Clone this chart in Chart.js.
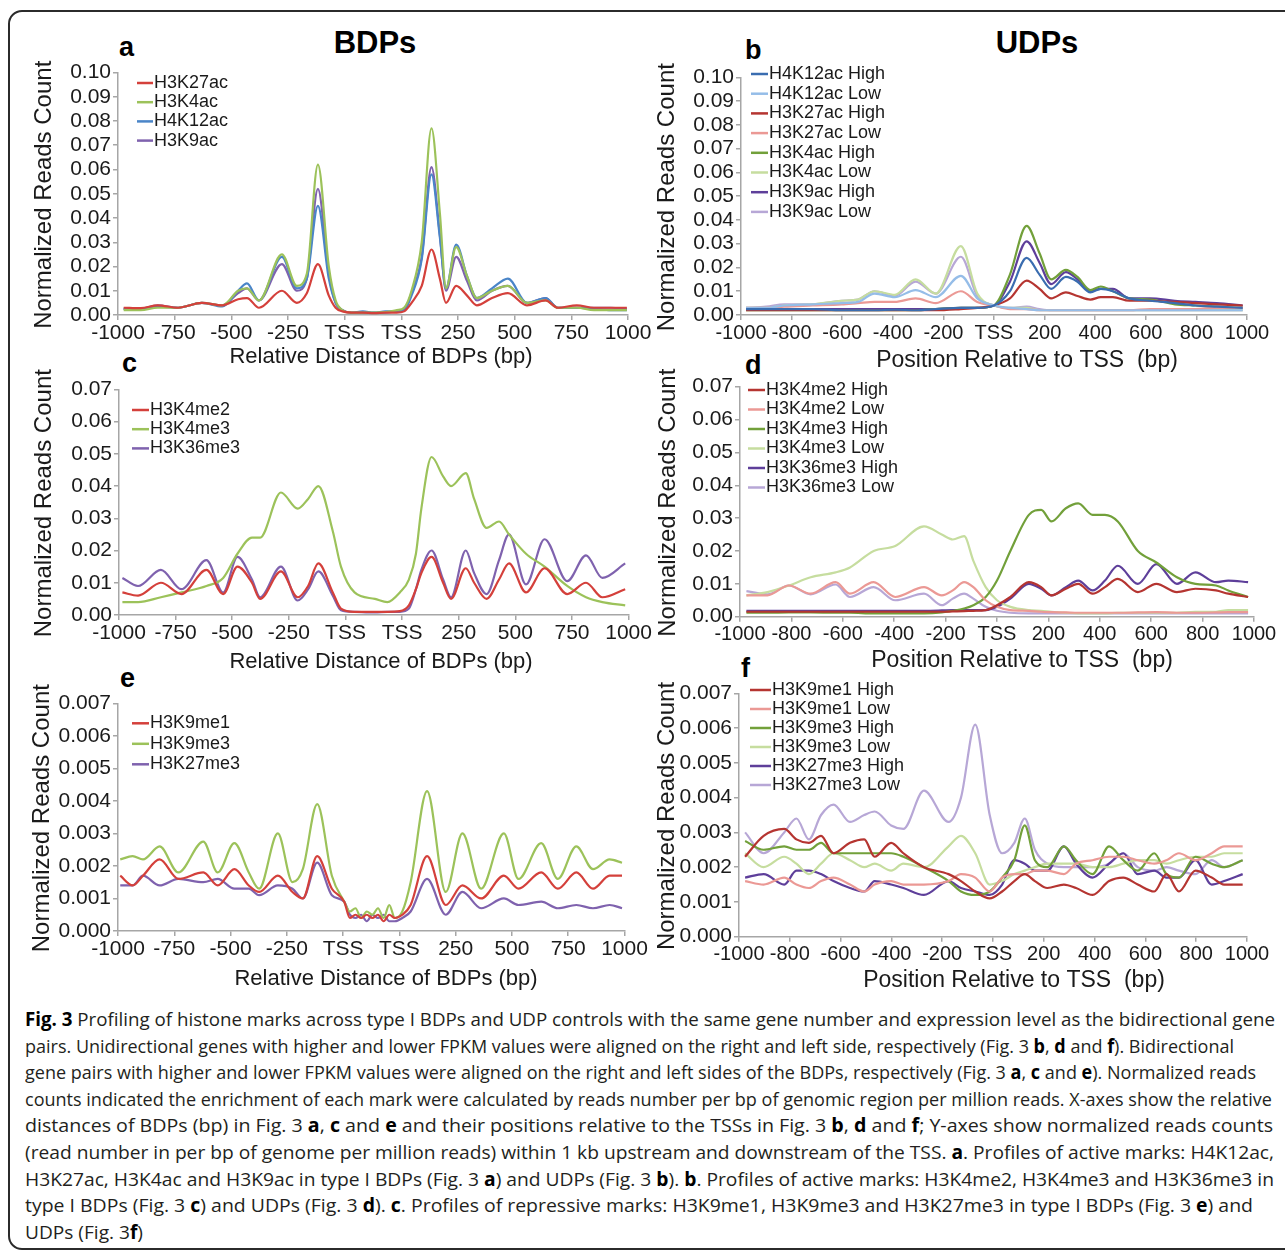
<!DOCTYPE html>
<html>
<head>
<meta charset="utf-8">
<title>Fig. 3 histone mark profiles</title>
<script src="https://cdn.jsdelivr.net/npm/chart.js@4.4.1/dist/chart.umd.min.js"></script>
<style>
  body { margin: 0; background: #fff; width: 1285px; height: 1251px; position: relative; overflow: hidden;
         font-family: "Liberation Sans", Arial, sans-serif; color: #1a1a1a; }
  .frame { position: absolute; left: 8px; top: 10px; width: 1300px; height: 1240px; box-sizing: border-box;
           border: 2px solid #2b2b2b; border-radius: 14px; }
  .head { position: absolute; font-weight: bold; font-size: 31px; line-height: 31px; transform: translateX(-50%); color: #000; }
  .letter { position: absolute; font-weight: bold; font-size: 27px; line-height: 27px; color: #000; }
  .caption { position: absolute; left: 25px; top: 1006px; font-family: "Liberation Sans Narrow", "Open Sans", sans-serif;
             font-size: 19px; color: #231f20; }
  .caption div { height: 26.6px; line-height: 26.6px; white-space: nowrap; }
  .caption span.ln { display: inline-block; transform-origin: 0 50%; }
  .caption b { color: #000; }
</style>
</head>
<body>
<div class="frame"></div>
<div class="head" style="left:375px; top:27px;">BDPs</div>
<div class="head" style="left:1037px; top:27px;">UDPs</div>
<div class="letter" style="left:119px; top:34px;">a</div>
<div class="letter" style="left:745px; top:37px;">b</div>
<div class="letter" style="left:122px; top:350px;">c</div>
<div class="letter" style="left:745px; top:352px;">d</div>
<div class="letter" style="left:120px; top:665px;">e</div>
<div class="letter" style="left:741px; top:655px;">f</div>

<div class="caption" id="caption">
  <div><span class="ln"><b>Fig. 3</b> Profiling of histone marks across type I BDPs and UDP controls with the same gene number and expression level as the bidirectional gene</span></div>
  <div><span class="ln">pairs. Unidirectional genes with higher and lower FPKM values were aligned on the right and left side, respectively (Fig. 3 <b>b</b>, <b>d</b> and <b>f</b>). Bidirectional</span></div>
  <div><span class="ln">gene pairs with higher and lower FPKM values were aligned on the right and left sides of the BDPs, respectively (Fig. 3 <b>a</b>, <b>c</b> and <b>e</b>). Normalized reads</span></div>
  <div><span class="ln">counts indicated the enrichment of each mark were calculated by reads number per bp of genomic region per million reads. X-axes show the relative</span></div>
  <div><span class="ln">distances of BDPs (bp) in Fig. 3 <b>a</b>, <b>c</b> and <b>e</b> and their positions relative to the TSSs in Fig. 3 <b>b</b>, <b>d</b> and <b>f</b>; Y-axes show normalized reads counts</span></div>
  <div><span class="ln">(read number in per bp of genome per million reads) within 1 kb upstream and downstream of the TSS. <b>a</b>. Profiles of active marks: H4K12ac,</span></div>
  <div><span class="ln">H3K27ac, H3K4ac and H3K9ac in type I BDPs (Fig. 3 <b>a</b>) and UDPs (Fig. 3 <b>b</b>). <b>b</b>. Profiles of active marks: H3K4me2, H3K4me3 and H3K36me3 in</span></div>
  <div><span class="ln">type I BDPs (Fig. 3 <b>c</b>) and UDPs (Fig. 3 <b>d</b>). <b>c</b>. Profiles of repressive marks: H3K9me1, H3K9me3 and H3K27me3 in type I BDPs (Fig. 3 <b>e</b>) and</span></div>
  <div><span class="ln">UDPs (Fig. 3<b>f</b>)</span></div>
</div>

<script>
// ---------- axes ----------
// BDP axis: left TSS at 0, right TSS at 250 (one tick interval between the two TSSs)
const bdpTickPos = [-1000, -750, -500, -250, 0, 250, 500, 750, 1000, 1250];
const bdpTickLabels = ['-1000', '-750', '-500', '-250', 'TSS', 'TSS', '250', '500', '750', '1000'];
const udpTickPos = [-1000, -800, -600, -400, -200, 0, 200, 400, 600, 800, 1000];
const udpTickLabels = ['-1000', '-800', '-600', '-400', '-200', 'TSS', '200', '400', '600', '800', '1000'];

const yTicksAc = [0, 0.01, 0.02, 0.03, 0.04, 0.05, 0.06, 0.07, 0.08, 0.09, 0.10];
const yLabelsAc = ['0.00', '0.01', '0.02', '0.03', '0.04', '0.05', '0.06', '0.07', '0.08', '0.09', '0.10'];
const yTicksMe = [0, 0.01, 0.02, 0.03, 0.04, 0.05, 0.06, 0.07];
const yLabelsMe = ['0.00', '0.01', '0.02', '0.03', '0.04', '0.05', '0.06', '0.07'];
const yTicksRep = [0, 0.001, 0.002, 0.003, 0.004, 0.005, 0.006, 0.007];
const yLabelsRep = ['0.000', '0.001', '0.002', '0.003', '0.004', '0.005', '0.006', '0.007'];

// ---------- panel a (BDPs, active acetylation marks) ----------
const posA = [-975, -900, -825, -735, -630, -540, -470, -431, -378, -277, -211, -167, -118, -70, -40, -10, 30, 80, 130, 180, 230, 262, 295, 340, 383, 420, 447, 492, 540, 583, 650, 720, 804, 886, 941, 1024, 1100, 1175, 1245];
const aH3K27ac = [0.003, 0.0028, 0.004, 0.003, 0.005, 0.004, 0.0065, 0.007, 0.003, 0.010, 0.005, 0.009, 0.021, 0.008, 0.003, 0.0015, 0.001, 0.001, 0.0008, 0.001, 0.001, 0.0015, 0.005, 0.012, 0.027, 0.015, 0.005, 0.012, 0.008, 0.004, 0.007, 0.009, 0.004, 0.006, 0.003, 0.004, 0.003, 0.003, 0.003];
const aH3K4ac = [0.002, 0.002, 0.003, 0.003, 0.005, 0.004, 0.010, 0.011, 0.006, 0.025, 0.012, 0.017, 0.062, 0.020, 0.006, 0.002, 0.001, 0.001, 0.001, 0.0012, 0.002, 0.003, 0.010, 0.030, 0.077, 0.042, 0.011, 0.028, 0.016, 0.007, 0.010, 0.012, 0.005, 0.006, 0.003, 0.003, 0.002, 0.002, 0.002];
const aH4K12ac = [0.0025, 0.0025, 0.0035, 0.003, 0.005, 0.0035, 0.010, 0.013, 0.006, 0.024, 0.011, 0.015, 0.045, 0.015, 0.005, 0.002, 0.001, 0.0015, 0.001, 0.0015, 0.0015, 0.002, 0.008, 0.023, 0.058, 0.032, 0.011, 0.029, 0.016, 0.007, 0.011, 0.015, 0.005, 0.007, 0.003, 0.003, 0.0025, 0.002, 0.002];
const aH3K9ac = [0.0025, 0.0025, 0.004, 0.003, 0.005, 0.004, 0.009, 0.011, 0.006, 0.021, 0.010, 0.015, 0.052, 0.017, 0.005, 0.002, 0.001, 0.001, 0.001, 0.001, 0.0015, 0.002, 0.009, 0.024, 0.061, 0.033, 0.010, 0.024, 0.014, 0.006, 0.010, 0.012, 0.005, 0.007, 0.003, 0.003, 0.003, 0.003, 0.0025];

// ---------- panel b (UDPs, acetylation, high / low FPKM) ----------
const posB = [-980, -900, -830, -716, -603, -538, -472, -392, -310, -230, -131, -66, 0, 63, 129, 180, 226, 284, 330, 381, 422, 470, 535, 617, 715, 796, 880, 983];
const bH4K12acHigh = [0.0025, 0.0025, 0.0025, 0.0025, 0.002, 0.002, 0.002, 0.0022, 0.002, 0.0025, 0.003, 0.003, 0.004, 0.010, 0.024, 0.017, 0.011, 0.016, 0.014, 0.0095, 0.011, 0.010, 0.007, 0.006, 0.005, 0.004, 0.0035, 0.003];
const bH4K12acLow = [0.003, 0.003, 0.004, 0.0045, 0.005, 0.0055, 0.009, 0.0075, 0.0105, 0.0075, 0.0165, 0.007, 0.004, 0.003, 0.0025, 0.002, 0.002, 0.002, 0.002, 0.002, 0.002, 0.002, 0.002, 0.002, 0.002, 0.002, 0.002, 0.002];
const bH3K27acHigh = [0.002, 0.002, 0.002, 0.002, 0.002, 0.002, 0.002, 0.002, 0.002, 0.002, 0.0025, 0.003, 0.004, 0.007, 0.0145, 0.011, 0.007, 0.0095, 0.008, 0.0065, 0.0075, 0.0075, 0.006, 0.006, 0.0055, 0.005, 0.0045, 0.004];
const bH3K27acLow = [0.003, 0.003, 0.0035, 0.004, 0.0045, 0.005, 0.0055, 0.0055, 0.007, 0.005, 0.010, 0.0055, 0.004, 0.0025, 0.0025, 0.002, 0.002, 0.002, 0.002, 0.002, 0.002, 0.002, 0.002, 0.0025, 0.0025, 0.0025, 0.003, 0.003];
const bH3K4acHigh = [0.002, 0.002, 0.002, 0.002, 0.002, 0.002, 0.002, 0.002, 0.002, 0.0025, 0.003, 0.003, 0.004, 0.017, 0.0375, 0.026, 0.015, 0.019, 0.016, 0.0105, 0.012, 0.010, 0.007, 0.0065, 0.0045, 0.004, 0.0035, 0.003];
const bH3K4acLow = [0.003, 0.003, 0.004, 0.0045, 0.006, 0.0065, 0.010, 0.0085, 0.015, 0.009, 0.029, 0.009, 0.004, 0.003, 0.003, 0.002, 0.002, 0.002, 0.002, 0.002, 0.002, 0.002, 0.002, 0.002, 0.002, 0.002, 0.002, 0.002];
const bH3K9acHigh = [0.0025, 0.0025, 0.0025, 0.0025, 0.0025, 0.0025, 0.0025, 0.0025, 0.0025, 0.0025, 0.003, 0.003, 0.004, 0.014, 0.031, 0.022, 0.013, 0.018, 0.015, 0.010, 0.011, 0.011, 0.007, 0.007, 0.006, 0.0055, 0.005, 0.004];
const bH3K9acLow = [0.003, 0.0035, 0.0045, 0.0045, 0.006, 0.0065, 0.010, 0.008, 0.014, 0.009, 0.0245, 0.008, 0.004, 0.003, 0.0035, 0.0025, 0.002, 0.002, 0.002, 0.002, 0.002, 0.002, 0.002, 0.002, 0.002, 0.002, 0.002, 0.002];

// ---------- panel c (BDPs, methylation active marks) ----------
const posC = [-985, -916, -815, -724, -614, -540, -477, -413, -377, -285, -211, -165, -120, -56, -20, 40, 130, 185, 240, 280, 311, 335, 380, 431, 466, 531, 568, 623, 678, 722, 797, 879, 979, 1062, 1134, 1235];
const cH3K4me2 = [0.007, 0.006, 0.010, 0.0065, 0.014, 0.0065, 0.015, 0.010, 0.005, 0.0135, 0.0055, 0.009, 0.016, 0.007, 0.002, 0.001, 0.001, 0.001, 0.0012, 0.003, 0.008, 0.013, 0.018, 0.010, 0.005, 0.0145, 0.010, 0.005, 0.011, 0.016, 0.007, 0.0145, 0.0065, 0.010, 0.0055, 0.008];
const cH3K4me3 = [0.004, 0.004, 0.0055, 0.007, 0.009, 0.0115, 0.019, 0.024, 0.024, 0.038, 0.033, 0.036, 0.040, 0.026, 0.015, 0.007, 0.005, 0.004, 0.007, 0.011, 0.019, 0.033, 0.049, 0.043, 0.040, 0.044, 0.036, 0.027, 0.029, 0.025, 0.019, 0.015, 0.009, 0.0055, 0.004, 0.003];
const cH3K36me3 = [0.0115, 0.009, 0.014, 0.008, 0.017, 0.007, 0.018, 0.011, 0.0055, 0.015, 0.0045, 0.008, 0.0135, 0.006, 0.0015, 0.001, 0.0008, 0.001, 0.001, 0.002, 0.008, 0.014, 0.020, 0.011, 0.0055, 0.020, 0.013, 0.0065, 0.017, 0.025, 0.0095, 0.0235, 0.0105, 0.0185, 0.0115, 0.016];

// ---------- panel d (UDPs, methylation active marks) ----------
const posD = [-975, -893, -810, -725, -628, -572, -480, -396, -284, -215, -172, -128, -92, -44, 0, 52, 124, 172, 212, 268, 316, 372, 420, 470, 548, 620, 700, 772, 852, 900, 977];
const dH3K4me2High = [0.0015, 0.0015, 0.0015, 0.0015, 0.0015, 0.0015, 0.0015, 0.0015, 0.0015, 0.0015, 0.0016, 0.0017, 0.0018, 0.002, 0.0035, 0.006, 0.0105, 0.009, 0.0065, 0.0085, 0.010, 0.007, 0.009, 0.0115, 0.0075, 0.010, 0.0075, 0.0085, 0.008, 0.007, 0.006];
const dH3K4me2Low = [0.0065, 0.0065, 0.0095, 0.007, 0.0105, 0.007, 0.0105, 0.006, 0.009, 0.0065, 0.008, 0.0105, 0.009, 0.005, 0.003, 0.002, 0.0018, 0.0015, 0.0014, 0.0013, 0.0012, 0.0012, 0.0012, 0.0012, 0.0013, 0.0014, 0.0012, 0.0012, 0.0013, 0.0014, 0.0014];
const dH3K4me3High = [0.0012, 0.0012, 0.0013, 0.0013, 0.0012, 0.0012, 0.001, 0.001, 0.001, 0.0013, 0.0018, 0.0025, 0.0035, 0.006, 0.011, 0.020, 0.031, 0.0325, 0.029, 0.033, 0.0345, 0.031, 0.031, 0.029, 0.020, 0.0165, 0.012, 0.010, 0.0095, 0.008, 0.006];
const dH3K4me3Low = [0.0065, 0.0075, 0.0095, 0.012, 0.0135, 0.015, 0.020, 0.0215, 0.0275, 0.025, 0.0235, 0.0245, 0.017, 0.009, 0.005, 0.003, 0.002, 0.0018, 0.0015, 0.0012, 0.001, 0.001, 0.001, 0.0012, 0.0012, 0.0012, 0.0012, 0.0015, 0.0015, 0.002, 0.002];
const dH3K36me3High = [0.0018, 0.0018, 0.0018, 0.0018, 0.0018, 0.0018, 0.0018, 0.0018, 0.0018, 0.0019, 0.002, 0.002, 0.002, 0.002, 0.003, 0.0055, 0.010, 0.0085, 0.0065, 0.009, 0.011, 0.008, 0.011, 0.0155, 0.010, 0.016, 0.010, 0.0135, 0.0105, 0.011, 0.0105];
const dH3K36me3Low = [0.0078, 0.0068, 0.0095, 0.0068, 0.0098, 0.006, 0.009, 0.005, 0.007, 0.0035, 0.0055, 0.007, 0.0055, 0.003, 0.0018, 0.0012, 0.001, 0.001, 0.001, 0.001, 0.001, 0.001, 0.001, 0.001, 0.001, 0.001, 0.001, 0.001, 0.001, 0.001, 0.001];

// ---------- panel e (BDPs, repressive marks) ----------
const posE = [-990, -935, -889, -815, -732, -621, -557, -483, -419, -373, -290, -225, -179, -115, -50, 5, 30, 55, 80, 105, 130, 155, 180, 205, 230, 263, 300, 373, 456, 530, 613, 714, 779, 880, 954, 1036, 1110, 1184, 1239];
const eH3K9me1 = [0.0017, 0.0014, 0.0017, 0.0022, 0.0016, 0.0018, 0.0014, 0.0019, 0.0014, 0.0012, 0.0017, 0.0012, 0.001, 0.0023, 0.0013, 0.0009, 0.0004, 0.0005, 0.0004, 0.0005, 0.0004, 0.0005, 0.0003, 0.0005, 0.0004, 0.0005, 0.0008, 0.0023, 0.0008, 0.0014, 0.001, 0.0017, 0.0013, 0.0018, 0.0013, 0.0018, 0.0013, 0.0017, 0.0017];
const eH3K9me3 = [0.0022, 0.0023, 0.0022, 0.0026, 0.0018, 0.00275, 0.0018, 0.0027, 0.0018, 0.0013, 0.003, 0.0015, 0.0019, 0.0039, 0.0017, 0.0009, 0.0006, 0.0007, 0.0004, 0.0006, 0.0005, 0.0007, 0.0004, 0.0008, 0.0004, 0.0006, 0.0015, 0.0043, 0.0012, 0.003, 0.0013, 0.003, 0.0016, 0.0027, 0.0016, 0.0026, 0.0019, 0.0022, 0.0021];
const eH3K27me3 = [0.0014, 0.0014, 0.0017, 0.0014, 0.0016, 0.0015, 0.0016, 0.0013, 0.0013, 0.0011, 0.0014, 0.0013, 0.001, 0.0021, 0.0011, 0.0009, 0.0005, 0.0004, 0.0005, 0.0003, 0.0005, 0.0004, 0.0005, 0.0003, 0.0003, 0.0004, 0.0006, 0.0016, 0.0005, 0.0012, 0.0007, 0.001, 0.0008, 0.0009, 0.0007, 0.0008, 0.0007, 0.0008, 0.0007];

// ---------- panel f (UDPs, repressive marks) ----------
const posF = [-976, -903, -822, -774, -725, -677, -628, -563, -507, -466, -401, -353, -272, -175, -126, -70, -13, 36, 84, 125, 165, 214, 279, 327, 392, 457, 513, 570, 635, 683, 732, 797, 861, 910, 983];
const fH3K9me1High = [0.0023, 0.0029, 0.0031, 0.0028, 0.0027, 0.0029, 0.0024, 0.0027, 0.0028, 0.0023, 0.0027, 0.0024, 0.0020, 0.0018, 0.0016, 0.0013, 0.0011, 0.0013, 0.0016, 0.0018, 0.0016, 0.0014, 0.0015, 0.0014, 0.0012, 0.0016, 0.0017, 0.0015, 0.0013, 0.0018, 0.0013, 0.0019, 0.0017, 0.0015, 0.0015];
const fH3K9me1Low = [0.0016, 0.0015, 0.0017, 0.0015, 0.0014, 0.0016, 0.0017, 0.0015, 0.0013, 0.0015, 0.0016, 0.0015, 0.0015, 0.0016, 0.0018, 0.0017, 0.0013, 0.0017, 0.0018, 0.0018, 0.0019, 0.0019, 0.0018, 0.0021, 0.0022, 0.0023, 0.0023, 0.0022, 0.0021, 0.0022, 0.0024, 0.0022, 0.0024, 0.0026, 0.0026];
const fH3K9me3High = [0.00275, 0.0025, 0.0026, 0.0025, 0.0025, 0.0027, 0.0024, 0.0024, 0.0024, 0.0024, 0.0024, 0.0023, 0.0020, 0.0016, 0.0013, 0.0012, 0.0013, 0.0017, 0.0022, 0.0032, 0.0022, 0.0020, 0.0026, 0.0022, 0.0018, 0.0026, 0.0022, 0.0019, 0.0024, 0.0018, 0.0017, 0.0023, 0.0021, 0.0020, 0.0022];
const fH3K9me3Low = [0.0024, 0.0020, 0.0023, 0.0021, 0.0018, 0.0021, 0.0024, 0.0022, 0.0020, 0.0021, 0.0019, 0.0021, 0.0020, 0.0026, 0.0029, 0.0024, 0.0015, 0.0016, 0.0018, 0.0019, 0.0020, 0.0021, 0.0021, 0.0021, 0.0020, 0.0020, 0.0021, 0.0022, 0.0022, 0.0021, 0.0022, 0.0023, 0.0023, 0.0024, 0.0024];
const fH3K27me3High = [0.0017, 0.0018, 0.0015, 0.0019, 0.0019, 0.0018, 0.0016, 0.0014, 0.0013, 0.0016, 0.0015, 0.0014, 0.0012, 0.0016, 0.0014, 0.0013, 0.0012, 0.0015, 0.0022, 0.0021, 0.0019, 0.0019, 0.0026, 0.0021, 0.0017, 0.0021, 0.0024, 0.0018, 0.0019, 0.0017, 0.0017, 0.0022, 0.0015, 0.0016, 0.0018];
const fH3K27me3Low = [0.0030, 0.0024, 0.0030, 0.0034, 0.0028, 0.0035, 0.0038, 0.0033, 0.0035, 0.0036, 0.0032, 0.0031, 0.0042, 0.0033, 0.0040, 0.0061, 0.0035, 0.0024, 0.0027, 0.0034, 0.0025, 0.0021, 0.0020, 0.0020, 0.0020, 0.0021, 0.0024, 0.0020, 0.0019, 0.0020, 0.0019, 0.0018, 0.0022, 0.0020, 0.0022];

// colours
const RED = '#d4403b', GREEN = '#9cc25a', BLUE = '#4a85c8', PURPLE = '#7f62ae';
const DBLUE = '#3a6db0', LBLUE = '#95bde8', DRED = '#b53531', PINK = '#eb9995',
      DGREEN = '#72a03a', LGREEN = '#c6dd9f', DPURPLE = '#5e3f9a', LPURPLE = '#b7a7d6';

Chart.defaults.font.family = '"Liberation Sans", Arial, sans-serif';
Chart.defaults.color = '#1a1a1a';

// legend drawn inside the plot, plus both axis titles at their own centres
const panelDecor = {
  id: 'panelDecor',
  afterDatasetsDraw(chart, args, o) {
    const { ctx, chartArea } = chart;
    ctx.save();
    ctx.font = '18px "Liberation Sans", Arial, sans-serif';
    ctx.textBaseline = 'middle';
    ctx.textAlign = 'left';
    chart.data.datasets.forEach((ds, i) => {
      const x = chartArea.left + o.legend.dx;
      const y = chartArea.top + o.legend.dy + i * o.legend.step;
      ctx.strokeStyle = ds.borderColor;
      ctx.lineWidth = 2.5;
      ctx.beginPath();
      ctx.moveTo(x, y);
      ctx.lineTo(x + o.legend.len, y);
      ctx.stroke();
      ctx.fillStyle = '#1a1a1a';
      ctx.fillText(ds.label, x + o.legend.len + 1, y);
    });
    ctx.font = o.xTitleSize + 'px "Liberation Sans", Arial, sans-serif';
    ctx.textAlign = 'center';
    ctx.fillText(o.xTitle, o.xTitleX, o.xTitleY);

    ctx.translate(o.yTitleX, (chartArea.top + chartArea.bottom) / 2 + 1);
    ctx.rotate(-Math.PI / 2);
    ctx.font = '24px "Liberation Sans", Arial, sans-serif';
    ctx.fillText('Normalized Reads Count', 0, 0);
    ctx.restore();
  }
};

function buildPanel(cfg) {
  const canvasLeft = Math.round(cfg.yTitleX - 24);
  const canvasTop = Math.round(cfg.T - 34);
  const yW = cfg.L - canvasLeft;
  const padTop = cfg.T - canvasTop;
  const xH = cfg.xTitleY + 16 - cfg.B;
  const width = Math.ceil(cfg.R - canvasLeft + 30);
  const height = Math.ceil(cfg.B - canvasTop + xH);
  const padRight = width - (cfg.R - canvasLeft);

  const canvas = document.createElement('canvas');
  canvas.width = width;
  canvas.height = height;
  canvas.style.cssText = `position:absolute;left:${canvasLeft}px;top:${canvasTop}px;width:${width}px;height:${height}px;`;
  document.body.appendChild(canvas);

  const datasets = cfg.series.map(s => ({
    label: s.label,
    data: cfg.x.map((x, j) => ({ x: x, y: s.values[j] })),
    borderColor: s.color,
    borderWidth: 2.2,
    pointRadius: 0,
    fill: false,
    cubicInterpolationMode: 'monotone'
  }));

  const axisLine = { color: '#a6a6a6', width: 1.5 };
  const gridOpts = { drawOnChartArea: false, drawTicks: true, tickLength: 5, color: '#a6a6a6', lineWidth: 1.5 };

  new Chart(canvas, {
    type: 'line',
    data: { datasets },
    options: {
      responsive: false,
      animation: false,
      devicePixelRatio: 1,
      events: [],
      layout: { padding: { top: padTop, right: padRight, left: 0, bottom: 0 } },
      plugins: {
        legend: { display: false },
        tooltip: { enabled: false },
        panelDecor: {
          legend: cfg.legend,
          xTitle: cfg.xTitle,
          xTitleSize: cfg.xTitleSize,
          xTitleX: cfg.xTitleX - canvasLeft,
          xTitleY: cfg.xTitleY - canvasTop,
          yTitleX: cfg.yTitleX - canvasLeft
        }
      },
      scales: {
        x: {
          type: 'linear',
          min: cfg.xTicks[0],
          max: cfg.xTicks[cfg.xTicks.length - 1],
          afterBuildTicks: s => { s.ticks = cfg.xTicks.map(v => ({ value: v })); },
          afterFit: s => { s.height = xH; },
          ticks: { autoSkip: false, maxRotation: 0, minRotation: 0, padding: 1, color: '#1a1a1a',
                   font: { size: cfg.xTickSize }, callback: (v, i) => cfg.xLabels[i] },
          grid: gridOpts,
          border: axisLine
        },
        y: {
          min: 0,
          max: cfg.yTicks[cfg.yTicks.length - 1],
          afterBuildTicks: s => { s.ticks = cfg.yTicks.map(v => ({ value: v })); },
          afterFit: s => { s.width = yW; },
          ticks: { autoSkip: false, padding: 2, color: '#1a1a1a', font: { size: 21 },
                   callback: (v, i) => cfg.yLabels[i] },
          grid: gridOpts,
          border: axisLine
        }
      }
    },
    plugins: [panelDecor]
  });
}

const bdpTitle = 'Relative Distance of BDPs (bp)';
const udpTitle = 'Position Relative to TSS  (bp)';

buildPanel({
  L: 118, R: 628, T: 72.5, B: 315, yTitleX: 44, xTitleX: 381, xTitleY: 357, xTitle: bdpTitle, xTitleSize: 22, xTickSize: 21,
  x: posA, xTicks: bdpTickPos, xLabels: bdpTickLabels, yTicks: yTicksAc, yLabels: yLabelsAc,
  legend: { dx: 19, dy: 10.5, step: 19.2, len: 16 },
  series: [
    { label: 'H3K27ac', values: aH3K27ac, color: RED },
    { label: 'H3K4ac', values: aH3K4ac, color: GREEN },
    { label: 'H4K12ac', values: aH4K12ac, color: BLUE },
    { label: 'H3K9ac', values: aH3K9ac, color: PURPLE }
  ]
});

buildPanel({
  L: 741, R: 1247, T: 77.3, B: 315, yTitleX: 667, xTitleX: 1027, xTitleY: 361, xTitle: udpTitle, xTitleSize: 23, xTickSize: 20,
  x: posB, xTicks: udpTickPos, xLabels: udpTickLabels, yTicks: yTicksAc, yLabels: yLabelsAc,
  legend: { dx: 10, dy: -3.3, step: 19.7, len: 17 },
  series: [
    { label: 'H4K12ac High', values: bH4K12acHigh, color: DBLUE },
    { label: 'H4K12ac Low', values: bH4K12acLow, color: LBLUE },
    { label: 'H3K27ac High', values: bH3K27acHigh, color: DRED },
    { label: 'H3K27ac Low', values: bH3K27acLow, color: PINK },
    { label: 'H3K4ac High', values: bH3K4acHigh, color: DGREEN },
    { label: 'H3K4ac Low', values: bH3K4acLow, color: LGREEN },
    { label: 'H3K9ac High', values: bH3K9acHigh, color: DPURPLE },
    { label: 'H3K9ac Low', values: bH3K9acLow, color: LPURPLE }
  ]
});

buildPanel({
  L: 119, R: 628.6, T: 389.3, B: 615, yTitleX: 44, xTitleX: 381, xTitleY: 662, xTitle: bdpTitle, xTitleSize: 22, xTickSize: 21,
  x: posC, xTicks: bdpTickPos, xLabels: bdpTickLabels, yTicks: yTicksMe, yLabels: yLabelsMe,
  legend: { dx: 13, dy: 20.7, step: 19.2, len: 17 },
  series: [
    { label: 'H3K4me2', values: cH3K4me2, color: RED },
    { label: 'H3K4me3', values: cH3K4me3, color: GREEN },
    { label: 'H3K36me3', values: cH3K36me3, color: PURPLE }
  ]
});

buildPanel({
  L: 740, R: 1254, T: 386.7, B: 616.7, yTitleX: 668, xTitleX: 1022, xTitleY: 661, xTitle: udpTitle, xTitleSize: 23, xTickSize: 20,
  x: posD, xTicks: udpTickPos, xLabels: udpTickLabels, yTicks: yTicksMe, yLabels: yLabelsMe,
  legend: { dx: 8, dy: 3.3, step: 19.5, len: 17 },
  series: [
    { label: 'H3K4me2 High', values: dH3K4me2High, color: DRED },
    { label: 'H3K4me2 Low', values: dH3K4me2Low, color: PINK },
    { label: 'H3K4me3 High', values: dH3K4me3High, color: DGREEN },
    { label: 'H3K4me3 Low', values: dH3K4me3Low, color: LGREEN },
    { label: 'H3K36me3 High', values: dH3K36me3High, color: DPURPLE },
    { label: 'H3K36me3 Low', values: dH3K36me3Low, color: LPURPLE }
  ]
});

buildPanel({
  L: 118, R: 624.5, T: 703.3, B: 931, yTitleX: 42, xTitleX: 386, xTitleY: 979, xTitle: bdpTitle, xTitleSize: 22, xTickSize: 21,
  x: posE, xTicks: bdpTickPos, xLabels: bdpTickLabels, yTicks: yTicksRep, yLabels: yLabelsRep,
  legend: { dx: 14, dy: 20, step: 20.5, len: 17 },
  series: [
    { label: 'H3K9me1', values: eH3K9me1, color: RED },
    { label: 'H3K9me3', values: eH3K9me3, color: GREEN },
    { label: 'H3K27me3', values: eH3K27me3, color: PURPLE }
  ]
});

buildPanel({
  L: 739, R: 1247, T: 693.3, B: 936.7, yTitleX: 667, xTitleX: 1014, xTitleY: 981, xTitle: udpTitle, xTitleSize: 23, xTickSize: 20,
  x: posF, xTicks: udpTickPos, xLabels: udpTickLabels, yTicks: yTicksRep, yLabels: yLabelsRep,
  legend: { dx: 11, dy: -3.3, step: 19, len: 21 },
  series: [
    { label: 'H3K9me1 High', values: fH3K9me1High, color: DRED },
    { label: 'H3K9me1 Low', values: fH3K9me1Low, color: PINK },
    { label: 'H3K9me3 High', values: fH3K9me3High, color: DGREEN },
    { label: 'H3K9me3 Low', values: fH3K9me3Low, color: LGREEN },
    { label: 'H3K27me3 High', values: fH3K27me3High, color: DPURPLE },
    { label: 'H3K27me3 Low', values: fH3K27me3Low, color: LPURPLE }
  ]
});

// fit each caption line to the width it has in the printed figure
const captionWidths = [1250, 1209, 1231, 1247, 1248, 1249, 1249, 1228, 118];
document.querySelectorAll('#caption span.ln').forEach((el, i) => {
  const w = el.getBoundingClientRect().width;
  if (w > 0) el.style.transform = `scaleX(${captionWidths[i] / w})`;
});
</script>
</body>
</html>
